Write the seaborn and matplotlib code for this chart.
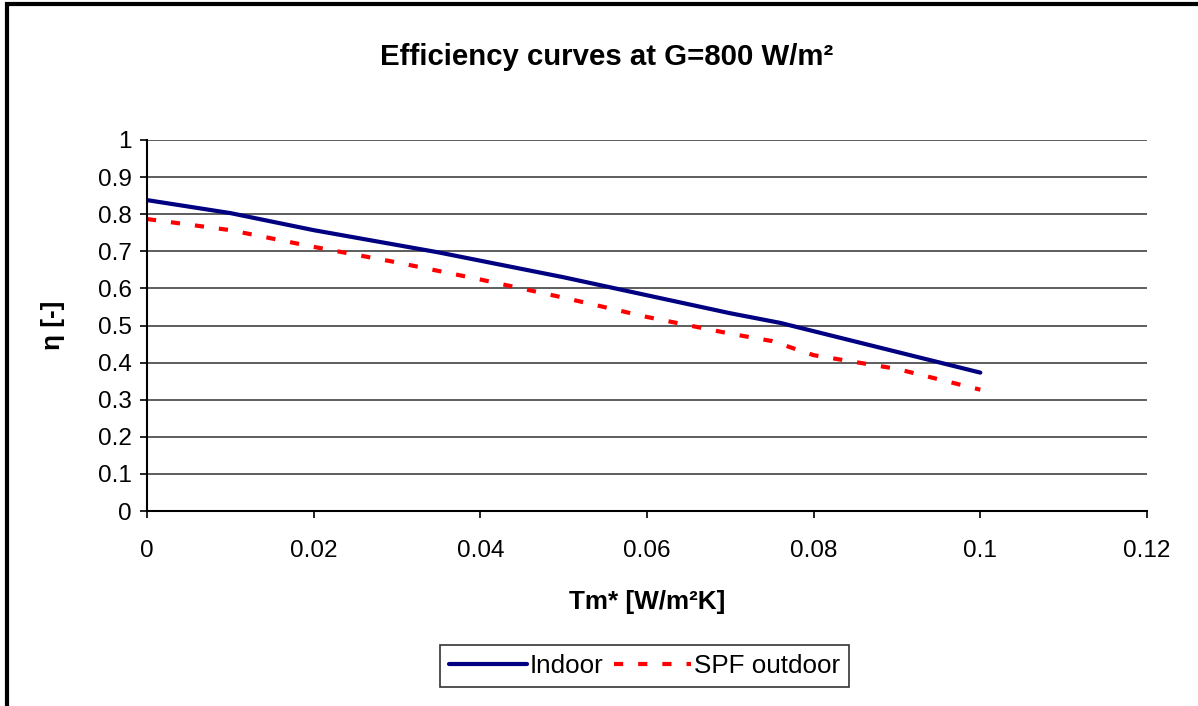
import pandas as pd
import matplotlib.pyplot as plt
import seaborn as sns
from matplotlib.patches import Rectangle

# Datos
x_indoor = [0.0, 0.01, 0.02, 0.035, 0.05, 0.07, 0.076, 0.1]
eta_indoor = [0.838, 0.803, 0.757, 0.697, 0.630, 0.533, 0.507, 0.373]

x_spf = [0.0, 0.01, 0.02, 0.03, 0.04, 0.05, 0.06, 0.07, 0.075, 0.08, 0.09, 0.1]
eta_spf = [0.787, 0.757, 0.712, 0.670, 0.624, 0.575, 0.523, 0.478, 0.458, 0.420, 0.383, 0.327]

series_names = ['Indoor', 'SPF outdoor']
y_ticks = [0, 0.1, 0.2, 0.3, 0.4, 0.5, 0.6, 0.7, 0.8, 0.9, 1]
x_ticks = [0, 0.02, 0.04, 0.06, 0.08, 0.1, 0.12]

df = pd.concat([
    pd.DataFrame({'x': x_indoor, 'eta': eta_indoor, 'serie': series_names[0]}),
    pd.DataFrame({'x': x_spf, 'eta': eta_spf, 'serie': series_names[1]}),
])

sns.set_style('white')
plt.rcParams['font.family'] = ['Liberation Sans', 'DejaVu Sans']
plt.rcParams['text.color'] = 'black'
plt.rcParams['axes.labelcolor'] = 'black'

fig = plt.figure(figsize=(11.98, 7.06), dpi=100)
ax = fig.add_axes([0.1227, 0.2762, 0.8347, 0.5255])

sns.lineplot(data=df, x='x', y='eta', hue='serie', style='serie',
             palette={'Indoor': '#000080', 'SPF outdoor': '#ff0000'},
             dashes={'Indoor': '', 'SPF outdoor': (2.2, 3.6)},
             linewidth=3, ax=ax, sort=False)

ax.set_xlim(0, 0.12)
ax.set_ylim(0, 1)
ax.set_xticks(x_ticks)
ax.set_xticklabels(['0', '0.02', '0.04', '0.06', '0.08', '0.1', '0.12'])
ax.set_yticks(y_ticks)
ax.set_yticklabels(['0', '0.1', '0.2', '0.3', '0.4', '0.5', '0.6', '0.7', '0.8', '0.9', '1'])
ax.tick_params(axis='both', labelsize=17.5, length=5, width=1.2, direction='out',
               bottom=True, left=True, colors='black')
ax.tick_params(axis='x', pad=16)
ax.tick_params(axis='y', pad=6)
ax.grid(axis='y', color='#505050', linewidth=1.3)
ax.set_axisbelow(True)
for s in ['top', 'right']:
    ax.spines[s].set_visible(False)
for s in ['left', 'bottom']:
    ax.spines[s].set_color('black')
    ax.spines[s].set_linewidth(1.5)

ax.set_xlabel('Tm* [W/m²K]', fontsize=18.8, fontweight='bold', labelpad=20)
ax.set_ylabel('η [-]', fontsize=18.8, fontweight='bold', labelpad=24)
fig.text(0.506, 0.919, 'Efficiency curves at G=800 W/m²', fontsize=21.2,
         fontweight='bold', ha='center', va='center')

handles, labels = ax.get_legend_handles_labels()
ax.legend(handles, labels, loc='center', bbox_to_anchor=(0.538, 0.0567),
          bbox_transform=fig.transFigure, ncol=2, fontsize=18.7, frameon=True,
          fancybox=False, edgecolor='black', handlelength=3.0, handletextpad=0.1,
          columnspacing=0.4, borderpad=0.35)
leg = ax.get_legend()
leg.get_frame().set_linewidth(1.2)

# marco exterior del grafico
fig.patches.append(Rectangle((0.006, -0.05), 1.1, 1.044, transform=fig.transFigure,
                             fill=False, edgecolor='black', linewidth=3))

fig.savefig('out.png', dpi=100)
